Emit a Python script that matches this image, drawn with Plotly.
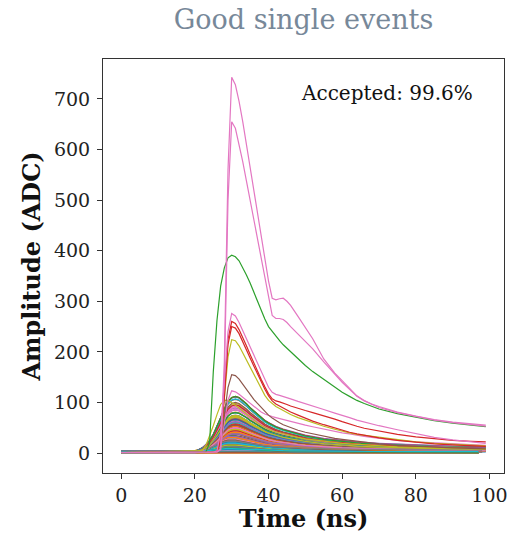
import plotly.graph_objects as go

# Sample times (ns) at which the highlighted waveforms are listed
t_knots = [0, 22, 23, 24, 25, 26, 27, 28, 29, 30, 31, 32, 33, 34, 35, 36, 37, 38, 39, 40,
           41, 42, 43, 44, 45, 46, 48, 50, 52, 55, 58, 60, 62, 64, 66, 68, 70, 75, 80, 85,
           90, 95, 99]

# Large individual waveforms (ADC)
pink_a = [1, 1, 1, 1, 1, 2, 8, 180, 560, 743, 728, 695, 655, 610, 560, 515, 470, 425, 383, 340,
          306, 303, 305, 306, 300, 292, 270, 248, 226, 186, 158, 143, 128, 113, 104, 97, 92, 81, 73, 66,
          61, 57, 55]
pink_b = [1, 1, 1, 1, 1, 2, 6, 150, 500, 655, 642, 612, 576, 538, 500, 462, 424, 386, 348, 308,
          272, 266, 266, 264, 258, 250, 235, 220, 206, 180, 155, 140, 126, 112, 103, 96, 90, 80, 72, 65,
          60, 56, 53]
green_c = [1, 1, 2, 20, 160, 262, 330, 366, 386, 391, 388, 380, 367, 352, 336, 318, 300, 282, 265, 250,
           240, 231, 222, 214, 207, 200, 186, 173, 161, 145, 130, 120, 112, 104, 98, 92, 87, 78, 71, 64,
           59, 55, 52]
pink_d = [1, 1, 1, 1, 2, 4, 40, 140, 240, 276, 271, 258, 242, 225, 208, 191, 175, 159, 144, 130,
          120, 116, 114, 112, 110, 107, 102, 97, 92, 86, 79, 75, 70, 65, 61, 57, 54, 46, 38, 31,
          26, 22, 19]
red_e = [1, 1, 1, 1, 2, 3, 30, 120, 225, 260, 256, 244, 229, 212, 195, 178, 162, 146, 131, 117,
         107, 103, 101, 99, 96, 93, 88, 84, 80, 74, 67, 62, 57, 53, 49, 46, 43, 37, 32, 28,
         25, 23, 22]
red_f = [1, 1, 1, 1, 2, 3, 25, 110, 215, 250, 247, 236, 221, 205, 188, 172, 156, 141, 126, 113,
         103, 97, 93, 89, 85, 81, 75, 69, 63, 56, 49, 45, 41, 38, 35, 32, 30, 25, 21, 18,
         16, 14, 13]
olive_g = [1, 1, 1, 1, 1, 2, 25, 100, 190, 224, 222, 212, 198, 183, 168, 153, 139, 126, 114, 104,
           97, 92, 88, 84, 80, 76, 70, 65, 60, 53, 47, 43, 40, 37, 35, 33, 31, 26, 22, 19,
           17, 15, 14]
brown_h = [1, 1, 1, 1, 1, 2, 20, 70, 130, 155, 153, 146, 136, 125, 115, 106, 98, 90, 82, 75,
           69, 64, 60, 56, 53, 50, 45, 41, 38, 33, 29, 27, 25, 23, 21, 19, 18, 15, 13, 11,
           10, 9, 8]
pink_i = [1, 1, 1, 1, 2, 4, 15, 60, 105, 123, 121, 116, 110, 104, 98, 92, 86, 81, 77, 74,
          72, 70, 68, 66, 64, 62, 58, 55, 52, 47, 43, 40, 38, 35, 33, 31, 29, 25, 22, 20,
          18, 16, 15]
olive_j = [1, 5, 15, 33, 54, 76, 96, 104, 104, 100, 95, 89, 83, 77, 71, 65, 60, 55, 51, 47,
           44, 42, 40, 38, 36, 34, 31, 28, 26, 23, 20, 19, 18, 17, 16, 15, 14, 12, 11, 10,
           9, 8, 8]

highlighted = [
    (olive_j, "#bcbd22"),
    (pink_i, "#e377c2"),
    (brown_h, "#8c564b"),
    (olive_g, "#bcbd22"),
    (red_f, "#d62728"),
    (red_e, "#d62728"),
    (pink_d, "#e377c2"),
    (green_c, "#2ca02c"),
    (pink_b, "#e377c2"),
    (pink_a, "#e377c2"),
]

# Common pulse shape of the small events (fraction of peak) on its own time grid
bulk_t = [0, 20, 21, 22, 23, 24, 25, 26, 27, 28, 29, 30, 31, 32, 33, 34, 35, 36, 37,
          38, 39, 40, 42, 44, 46, 48, 50, 55, 60, 65, 70, 80, 90, 99]
bulk_shape = [0, 0, 0.03, 0.07, 0.13, 0.21, 0.32, 0.46, 0.62, 0.78, 0.91, 0.98, 1.0, 0.98,
              0.93, 0.87, 0.80, 0.74, 0.68, 0.62, 0.57, 0.53, 0.46, 0.41, 0.37, 0.33, 0.30,
              0.24, 0.20, 0.17, 0.15, 0.12, 0.10, 0.09]

# Peak amplitudes (ADC), timing shifts (ns) and pedestals (ADC) of the small events
bulk_peak = [
    12, 45, 3, 68, 27, 0, 88, 34, 9, 52, 19, 2, 74, 41, 15, 60, 1, 30, 96, 23,
    6, 57, 38, 0, 81, 14, 47, 25, 4, 65, 110, 31, 8, 50, 18, 2, 71, 36, 11, 43,
    0, 28, 62, 7, 92, 21, 40, 1, 55, 33, 13, 78, 5, 46, 24, 103, 3, 58, 16, 37,
    10, 69, 29, 0, 49, 20, 84, 42, 6, 63, 26, 1, 53, 17, 108, 35, 4, 75, 22, 44,
    2, 59, 32, 9, 86, 15, 48, 0, 66, 27, 12, 39, 5, 56, 19, 99, 30, 3, 72, 24,
    8, 51, 13, 111, 36, 1, 61, 20, 43, 7, 80, 28, 0, 54, 16, 34, 4, 67, 23, 106,
    11, 47, 2, 64, 31, 6, 90, 38, 14, 57, 21, 0, 76, 42, 9, 52, 26, 3, 70, 18,
    5, 40, 112, 0, 58, 25, 83, 13, 45, 3, 62, 29, 10, 94, 35, 1, 50, 20, 73, 7,
]
bulk_shift = [
    0, -1, -2, 0, -1, -2, 0, -1, -2, 0, -1, -2, 0, 0, -1, 0, -2, -1, 0, -1,
    -2, 0, -1, -2, 0, -1, 0, -1, -2, 0, 0, -1, -2, 0, -1, -2, 0, 0, -1, 0,
    -2, -1, 0, -2, 0, -1, 0, -2, 0, -1, -2, 0, -2, 0, -1, 0, -2, 0, -1, 0,
    -2, 0, -1, -2, 0, -1, 0, 0, -2, 0, -1, -2, 0, -1, 0, 0, -2, 0, -1, 0,
    -2, 0, -1, -2, 0, -1, 0, -2, 0, -1, -2, 0, -2, 0, -1, 0, 0, -2, 0, -1,
    -2, 0, -1, 0, 0, -2, 0, -1, 0, -2, 0, -1, -2, 0, -1, 0, -2, 0, -1, 0,
    -1, 0, -2, 0, -1, -2, 0, 0, -1, 0, -1, -2, 0, 0, -2, 0, -1, -2, 0, -1,
    -2, 0, 0, -2, 0, -1, 0, -1, 0, -2, 0, -1, -2, 0, 0, -2, 0, -1, 0, -2,
]
bulk_pedestal = [
    1, 2, 0, 3, 1, 2, 4, 0, 1, 3, 2, 1, 0, 2, 3, 1, 4, 0, 2, 1,
    3, 0, 2, 1, 4, 2, 0, 3, 1, 2, 1, 0, 3, 2, 1, 4, 0, 2, 3, 1,
    2, 4, 1, 0, 3, 1, 2, 0, 4, 2, 1, 3, 0, 1, 2, 3, 1, 4, 0, 2,
    1, 3, 0, 2, 4, 1, 2, 3, 0, 1, 2, 4, 1, 0, 3, 2, 1, 0, 2, 3,
    4, 1, 2, 0, 3, 2, 1, 4, 0, 2, 3, 1, 0, 2, 4, 1, 3, 0, 2, 1,
    0, 2, 3, 1, 4, 0, 2, 1, 3, 2, 0, 4, 1, 2, 3, 0, 1, 2, 4, 1,
    2, 0, 1, 3, 2, 4, 0, 1, 2, 3, 1, 0, 4, 2, 1, 3, 2, 0, 1, 2,
    3, 1, 0, 2, 4, 1, 3, 0, 2, 1, 4, 2, 0, 1, 3, 2, 0, 4, 1, 2,
]

tab10 = ["#1f77b4", "#ff7f0e", "#2ca02c", "#d62728", "#9467bd",
         "#8c564b", "#e377c2", "#7f7f7f", "#bcbd22", "#17becf"]

fig = go.Figure()

for i, (peak, shift, ped) in enumerate(zip(bulk_peak, bulk_shift, bulk_pedestal)):
    xs = [min(99, max(0, t + shift)) for t in bulk_t]
    ys = [ped + peak * s for s in bulk_shape]
    fig.add_trace(go.Scatter(x=xs, y=ys, mode="lines",
                             line=dict(color=tab10[i % 10], width=1.2),
                             hoverinfo="skip", showlegend=False))

for values, color in highlighted:
    fig.add_trace(go.Scatter(x=t_knots, y=values, mode="lines",
                             line=dict(color=color, width=1.2),
                             hoverinfo="skip", showlegend=False))

serif = "DejaVu Serif"
axis_common = dict(
    showline=True, mirror=True, linecolor="#333333", linewidth=1,
    ticks="outside", ticklen=5, tickwidth=1, tickcolor="#333333",
    showgrid=False, zeroline=False, ticklabeloverflow="allow",
    tickfont=dict(family=serif, size=19, color="#222222"),
)

fig.update_layout(
    width=510, height=533,
    margin=dict(l=103, r=3, t=59, b=60),
    paper_bgcolor="white", plot_bgcolor="white",
    title=dict(text="Good single events", x=0.5, xref="paper", xanchor="center",
               y=1 - 20 / 533, yref="container", yanchor="middle",
               font=dict(family=serif, size=27, color="#778899")),
    xaxis=dict(range=[-4.95, 103.95], tickvals=[0, 20, 40, 60, 80, 100],
               title=dict(text="<b>Time (ns)</b>", standoff=0,
                          font=dict(family=serif, size=24, color="#111111")),
               **axis_common),
    yaxis=dict(range=[-39.5, 779], tickvals=[0, 100, 200, 300, 400, 500, 600, 700],
               ticklabelstandoff=3,
               title=dict(text="<b>Amplitude (ADC)</b>", standoff=6,
                          font=dict(family=serif, size=24, color="#111111")),
               **axis_common),
    annotations=[dict(text="Accepted: 99.6%", xref="paper", yref="paper",
                      x=0.928, y=0.918, xanchor="right", yanchor="middle",
                      showarrow=False,
                      font=dict(family=serif, size=20, color="#111111"))],
)

fig.write_html("out.html")
